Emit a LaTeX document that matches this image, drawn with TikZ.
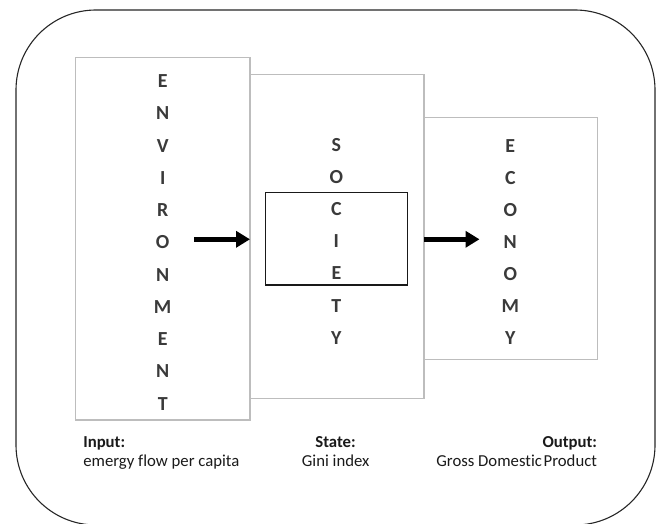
\documentclass[tikz,border=0pt]{standalone}
\usepackage{fontspec}
\setmainfont{Carlito}[Ligatures=NoCommon]
\usetikzlibrary{arrows.meta}
\definecolor{boxgray}{HTML}{BDBDBD}
\definecolor{lettergray}{HTML}{3A3A3A}
\definecolor{txtcol}{HTML}{1A1A1A}
\begin{document}
\begin{tikzpicture}[x=1bp,y=-1bp,
  frame/.style={draw=black!85,line width=1.1bp,rounded corners=80bp,inner sep=0,outer sep=0},
  panel/.style={draw=boxgray,line width=1.2bp,inner sep=0,outer sep=0},
  innerbox/.style={draw=black!90,line width=1.2bp,inner sep=0,outer sep=0},
  letter/.style={inner sep=0,outer sep=0,text=lettergray,font=\fontsize{20}{21}\selectfont\bfseries},
  lbl/.style={inner sep=0,outer sep=0,text=txtcol,font=\fontsize{16.8}{19}\selectfont},
  lblb/.style={lbl,font=\fontsize{16.8}{19}\selectfont\bfseries},
  flow/.style={line width=4.6bp,-{Triangle[length=14bp,width=16bp]}}]
\useasboundingbox (0,0) rectangle (657,524);
% outer frame
\node[frame,minimum width=639bp,minimum height=515bp] (frame) at (335.5,267.5) {};
% panels
\node[panel,minimum width=174bp,minimum height=324bp] (soc) at (337,236.7) {};
\node[panel,minimum width=174bp,minimum height=241.7bp] (eco) at (510.6,238.5) {};
\node[panel,minimum width=174.5bp,minimum height=362.5bp] (env) at (162.75,238.75) {};
\node[innerbox,minimum width=142.3bp,minimum height=92.7bp] (gini) at (336.5,238.65) {};
% letters
\foreach \l [count=\i from 0] in {E,N,V,I,R,O,N,M,E,N,T}
  \node[letter] (env-l\i) at (162.7,81.3+32.24*\i) {\l};
\foreach \l [count=\i from 0] in {S,O,C,I,E,T,Y}
  \node[letter] (soc-l\i) at (336.4,144.6+32.2*\i) {\l};
\foreach \l [count=\i from 0] in {E,C,O,N,O,M,Y}
  \node[letter] (eco-l\i) at (510.3,145.8+32.1*\i) {\l};
% arrows
\coordinate (a1s) at (194.3,239.3);
\coordinate (a2e) at (479.5,239.3);
\draw[flow] (a1s) -- (a1s -| soc.west);
\draw[flow] (a2e -| soc.east) -- (a2e);
% labels
\node[lblb,anchor=base west] (inl) at (83.3,447.7) {Input:};
\node[lbl,anchor=base west] (inv) at (83.3,466.7) {emergy flow per capita};
\node[lblb,anchor=base] (stl) at (335.5,447.7) {State:};
\node[lbl,anchor=base] (stv) at (335.7,466.7) {Gini index};
\node[lblb,anchor=base east] (outl) at (597,447.7) {Output:};
\node[lbl,anchor=base east] (outv) at (597,466.7) {Gross Domestic\hspace{-0.12em} Product};
\end{tikzpicture}
\end{document}
